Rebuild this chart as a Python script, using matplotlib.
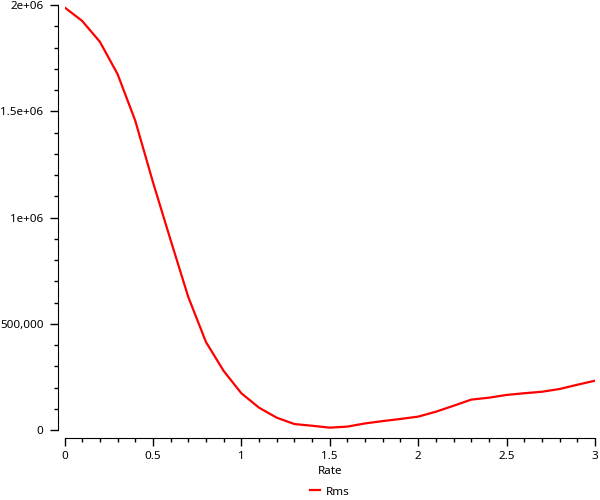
import matplotlib
matplotlib.use("Agg")
import matplotlib.pyplot as plt
from matplotlib.ticker import FixedLocator, FixedFormatter, MultipleLocator

rate = [0.0, 0.1, 0.2, 0.3, 0.4, 0.5, 0.6, 0.7, 0.8, 0.9,
        1.0, 1.1, 1.2, 1.3, 1.4, 1.5, 1.6, 1.7, 1.8, 1.9,
        2.0, 2.1, 2.2, 2.3, 2.4, 2.5, 2.6, 2.7, 2.8, 2.9, 3.0]
rms = [1.989e6, 1.925e6, 1.827e6, 1.675e6, 1.456e6, 1.167e6, 0.894e6, 0.626e6, 0.414e6, 0.278e6,
       0.173e6, 0.105e6, 0.058e6, 0.028e6, 0.020e6, 0.011e6, 0.016e6, 0.031e6, 0.042e6, 0.052e6,
       0.063e6, 0.086e6, 0.114e6, 0.143e6, 0.152e6, 0.165e6, 0.173e6, 0.180e6, 0.193e6, 0.213e6,
       0.232e6]

x_ticks = [0, 0.5, 1, 1.5, 2, 2.5, 3]
x_tick_labels = ["0", "0.5", "1", "1.5", "2", "2.5", "3"]
y_ticks = [0, 500000, 1000000, 1500000, 2000000]
y_tick_labels = ["0", "500,000", "1e+06", "1.5e+06", "2e+06"]

plt.rcParams['font.family'] = ['Noto Sans', 'DejaVu Sans']
fig = plt.figure(figsize=(6, 5), dpi=100)
ax = fig.add_axes([64.5 / 600, 1 - 430 / 500, 530.5 / 600, 425 / 500])

ax.plot(rate, rms, color="#ff0000", linewidth=1.6, label="Rms")

ax.set_xlim(0, 3)
ax.set_ylim(0, 2e6)

for s in ["top", "right"]:
    ax.spines[s].set_visible(False)
ax.spines["left"].set_position(("outward", 4.7))
ax.spines["bottom"].set_position(("outward", 5.8))
ax.spines["left"].set_bounds(0, 2e6)
ax.spines["bottom"].set_bounds(0, 3)

ax.xaxis.set_major_locator(FixedLocator(x_ticks))
ax.xaxis.set_major_formatter(FixedFormatter(x_tick_labels))
ax.xaxis.set_minor_locator(MultipleLocator(0.1))
ax.yaxis.set_major_locator(FixedLocator(y_ticks))
ax.yaxis.set_major_formatter(FixedFormatter(y_tick_labels))
ax.yaxis.set_minor_locator(MultipleLocator(100000))

ax.tick_params(axis="both", which="major", length=5.5, width=1, labelsize=8.4, color="black")
ax.tick_params(axis="both", which="minor", length=3, width=1, color="black")
ax.tick_params(axis="y", which="major", pad=5)
ax.tick_params(axis="x", which="major", pad=4)

ax.set_xlabel("Rate", fontsize=8.4, labelpad=2.5)
ax.legend(loc="upper center", bbox_to_anchor=(0.5, -0.108), frameon=False,
          fontsize=8.4, handlelength=0.8, handletextpad=0.5)

fig.savefig("out.png", dpi=100)
